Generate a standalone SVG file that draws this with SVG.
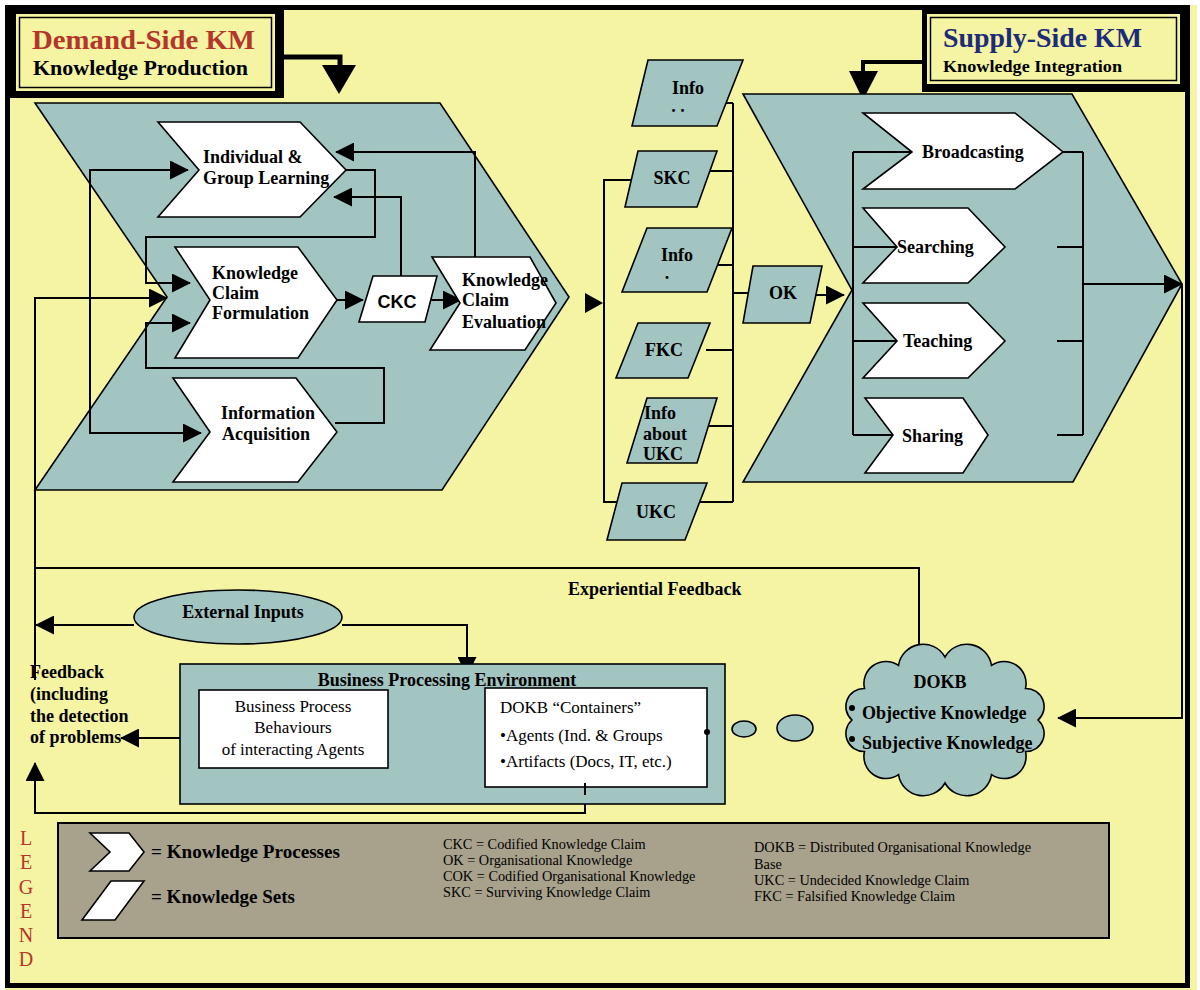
<svg xmlns="http://www.w3.org/2000/svg" width="1200" height="990" viewBox="0 0 1200 990">
  <style>
    .teal{fill:#A2C5C1;stroke:#000;stroke-width:1.6}
    .proc{fill:#fff;stroke:#000;stroke-width:1.6}
    .ln{fill:none;stroke:#000;stroke-width:2}
    .arr{fill:none;stroke:#000;stroke-width:2;marker-end:url(#ah)}
    .t{font-family:"Liberation Serif","Times New Roman",serif;font-weight:bold;font-size:18px;fill:#000}
    .r{font-family:"Liberation Serif","Times New Roman",serif;font-size:17px;fill:#000}
    .s{font-family:"Liberation Serif","Times New Roman",serif;font-size:14.3px;fill:#000}
    .c{text-anchor:middle}
    .leg{font-family:"Liberation Serif","Times New Roman",serif;font-size:20px;fill:#B5352A;text-anchor:middle}
  </style>
  <defs>
    <marker id="ah" viewBox="0 0 20 20" markerWidth="19" markerHeight="19" refX="19" refY="10" orient="auto" markerUnits="userSpaceOnUse">
      <path d="M0,0 L20,10 L0,20 Z" fill="#000"/>
    </marker>
  </defs>

  <!-- page and frame -->
  <rect x="0" y="0" width="1200" height="990" fill="#fff"/>
  <rect x="5" y="5" width="1192" height="985" fill="#F4F4A2"/>
  <rect x="7.5" y="7.5" width="1180" height="978" fill="none" stroke="#000" stroke-width="5"/>

  <!-- demand side header -->
  <g id="demand-header">
    <rect x="5" y="5" width="279" height="93" fill="#000"/>
    <rect x="16" y="14" width="259" height="77" fill="#F4F4A2"/>
    <rect x="19.5" y="17.5" width="252" height="70" fill="none" stroke="#000" stroke-width="1.5"/>
    <text x="32" y="49" font-family="Liberation Serif,serif" font-weight="bold" font-size="27" fill="#B5352A" textLength="223" lengthAdjust="spacingAndGlyphs">Demand-Side KM</text>
    <text x="33" y="75" font-family="Liberation Serif,serif" font-weight="bold" font-size="21" fill="#000" textLength="215" lengthAdjust="spacingAndGlyphs">Knowledge Production</text>
    <polyline points="284,57 340,57 340,68" fill="none" stroke="#000" stroke-width="5"/>
    <polygon points="322,65 356,65 339,94" fill="#000"/>
  </g>

  <!-- supply side header -->
  <g id="supply-header">
    <rect x="922" y="5" width="268" height="87" fill="#000"/>
    <rect x="927" y="14" width="253" height="70" fill="#F4F4A2"/>
    <rect x="930.5" y="17.5" width="246" height="63" fill="none" stroke="#000" stroke-width="1.5"/>
    <text x="943" y="47" font-family="Liberation Serif,serif" font-weight="bold" font-size="27" fill="#1C2B7A" textLength="199" lengthAdjust="spacingAndGlyphs">Supply-Side KM</text>
    <text x="943" y="72" font-family="Liberation Serif,serif" font-weight="bold" font-size="17" fill="#000" textLength="179" lengthAdjust="spacingAndGlyphs">Knowledge Integration</text>
    <polyline points="922,62 863,62 863,74" fill="none" stroke="#000" stroke-width="4"/>
    <polygon points="849,71 878,71 863,100" fill="#000"/>
  </g>

  <!-- large process chevrons -->
  <g id="demand-chevron">
    <polygon class="teal" points="35,103 440,103 569,297 442,490 35,490 167,297"/>
  </g>
  <g id="supply-chevron">
    <polygon class="teal" points="743,94 1072,94 1182,284 1073,482 743,482 852,290"/>
  </g>

  <!-- connectors -->
  <g id="connectors">
    <!-- demand side loops -->
    <path class="arr" d="M90,300 V170 H188"/>
    <path class="arr" d="M90,300 V433 H201"/>
    <path class="arr" d="M346,170 H375 V237 H146 V283 H190"/>
    <path class="arr" d="M335,423 H384 V368 H146 V323 H190"/>
    <path class="arr" d="M475,257 V152 H336"/>
    <path class="arr" d="M401,278 V197 H334"/>
    <path class="arr" d="M337,300 H363"/>
    <path class="arr" d="M426,300 H461"/>
    <path class="arr" d="M35,680 V298 H167"/>
    <polygon points="585,293 603,303 585,313" fill="#000"/>

    <!-- knowledge set buses -->
    <path class="ln" d="M632,180 H604 V502 H618"/>
    <path class="ln" d="M733,103 V502"/>
    <path class="ln" d="M715,103 H733 M710,171 H733 M715,265 H733 M706,350 H733 M708,426 H733 M697,502 H733"/>
    <path class="ln" d="M733,293 H749"/>
    <path class="arr" d="M815,295 H844"/>

    <!-- supply side buses -->
    <path class="ln" d="M853,152 V435 M853,152 H912"/>
    <path class="ln" d="M1083,152 V435 M1063,152 H1083 M1057,247 H1083 M1057,341 H1083 M1057,435 H1083"/>
    <path class="arr" d="M1083,284 H1182"/>
    <path class="arr" d="M1182,284 V718 H1058"/>

    <!-- feedback loops -->
    <path class="ln" d="M35,568 H919 V647"/>
    <path class="arr" d="M134,625 H36"/>
    <path class="arr" d="M342,625 H467 V675"/>
    <path class="arr" d="M486,748 H440"/>
    <path class="arr" d="M199,738 H121"/>
    <path class="arr" d="M585,783 V813 H35 V763"/>
  </g>

  <!-- demand side processes -->
  <g id="individual-group-learning">
    <polygon class="proc" points="158,122 300,122 346,170 300,217 158,217 199,170"/>
    <text class="t" x="203" y="163">Individual &amp;</text>
    <text class="t" x="203" y="184">Group Learning</text>
  </g>
  <g id="kc-formulation">
    <polygon class="proc" points="175,247 298,247 337,300 298,358 175,358 210,300"/>
    <text class="t" x="212" y="279">Knowledge</text>
    <text class="t" x="212" y="299">Claim</text>
    <text class="t" x="212" y="319">Formulation</text>
  </g>
  <g id="information-acquisition">
    <polygon class="proc" points="173,378 296,378 337,432 298,482 173,482 210,432"/>
    <text class="t c" x="268" y="419">Information</text>
    <text class="t c" x="266" y="440">Acquisition</text>
  </g>
  <g id="ckc">
    <polygon class="proc" points="373,276 437,276 425,322 359,322"/>
    <text x="397" y="308" font-family="Liberation Sans,Arial,sans-serif" font-weight="bold" font-size="18" text-anchor="middle">CKC</text>
  </g>
  <g id="kc-evaluation">
    <polygon class="proc" points="432,257 530,257 556,303 525,350 430,350 460,303"/>
    <text class="t" x="462" y="286">Knowledge</text>
    <text class="t" x="462" y="306">Claim</text>
    <text class="t" x="462" y="328">Evaluation</text>
  </g>

  <!-- knowledge sets -->
  <g id="set-info-1">
    <polygon class="teal" points="648,60 743,60 717,126 632,126"/>
    <text class="t c" x="688" y="94" font-size="17">Info</text>
    <text class="t c" x="678" y="112" font-size="13">. .</text>
  </g>
  <g id="set-skc">
    <polygon class="teal" points="638,151 717,151 697,207 625,207"/>
    <text class="t c" x="672" y="184" font-size="17">SKC</text>
  </g>
  <g id="set-info-2">
    <polygon class="teal" points="647,228 732,228 707,292 622,292"/>
    <text class="t c" x="677" y="261" font-size="17">Info</text>
    <text class="t c" x="667" y="279" font-size="13">.</text>
  </g>
  <g id="set-fkc">
    <polygon class="teal" points="638,323 710,323 688,378 616,378"/>
    <text class="t c" x="664" y="356" font-size="17">FKC</text>
  </g>
  <g id="set-info-ukc">
    <polygon class="teal" points="647,398 717,398 697,463 627,463"/>
    <text class="t" x="644" y="419" font-size="17">Info</text>
    <text class="t" x="643" y="440" font-size="17">about</text>
    <text class="t" x="643" y="460" font-size="17">UKC</text>
  </g>
  <g id="set-ukc">
    <polygon class="teal" points="622,483 707,483 685,540 607,540"/>
    <text class="t c" x="656" y="518" font-size="17">UKC</text>
  </g>
  <g id="set-ok">
    <polygon class="teal" points="753,266 822,266 810,323 743,323"/>
    <text class="t c" x="783" y="299" font-size="17">OK</text>
  </g>

  <!-- supply side processes -->
  <g id="broadcasting">
    <polygon class="proc" points="863,113 1015,113 1063,152 1015,189 863,189 912,152"/>
    <text class="t" x="922" y="158">Broadcasting</text>
  </g>
  <g id="searching">
    <polygon class="proc" points="863,208 968,208 1005,247 968,283 863,283 897,247"/>
    <text class="t" x="897" y="253">Searching</text>
  </g>
  <g id="teaching">
    <polygon class="proc" points="863,303 968,303 1005,341 968,378 863,378 897,341"/>
    <text class="t" x="903" y="347">Teaching</text>
  </g>
  <g id="sharing">
    <polygon class="proc" points="865,398 963,398 988,435 963,473 865,473 893,435"/>
    <text class="t" x="902" y="442">Sharing</text>
  </g>
  <!-- bus stubs that run into the chevron notches -->
  <path class="ln" d="M853,247 H897 M853,341 H897 M853,435 H893"/>

  <!-- feedback labels -->
  <g id="experiential-feedback">
    <text class="t" x="568" y="595">Experiential Feedback</text>
  </g>
  <g id="feedback-note">
    <text class="t" x="30" y="678" font-size="16">Feedback</text>
    <text class="t" x="30" y="700" font-size="16">(including</text>
    <text class="t" x="30" y="722" font-size="16">the detection</text>
    <text class="t" x="30" y="743" font-size="16">of problems</text>
  </g>

  <!-- external inputs -->
  <g id="external-inputs">
    <ellipse class="teal" cx="238" cy="617" rx="104" ry="27"/>
    <text class="t c" x="243" y="618" font-size="17">External Inputs</text>
  </g>

  <!-- business processing environment -->
  <g id="business-processing-environment">
    <rect class="teal" x="180" y="664" width="545" height="140"/>
    <text class="t c" x="447" y="686">Business Processing Environment</text>
  </g>
  <g id="business-process-behaviours">
    <rect class="proc" x="199" y="690" width="189" height="78"/>
    <text class="r c" x="293" y="712">Business Process</text>
    <text class="r c" x="293" y="733">Behaviours</text>
    <text class="r c" x="293" y="755">of interacting Agents</text>
  </g>
  <g id="dokb-containers">
    <rect class="proc" x="485" y="688" width="222" height="99"/>
    <text class="r" x="500" y="713">DOKB “Containers”</text>
    <text class="r" x="500" y="741">•Agents (Ind. &amp; Groups</text>
    <text class="r" x="500" y="767">•Artifacts (Docs, IT, etc.)</text>
    <circle cx="707" cy="732" r="3" fill="#000"/>
    <path class="ln" d="M585,783 V795"/>
  </g>

  <!-- thought bubbles towards the DOKB -->
  <g id="bubbles">
    <ellipse class="teal" cx="744" cy="729" rx="12" ry="8"/>
    <ellipse class="teal" cx="795" cy="728" rx="18" ry="13"/>
  </g>

  <!-- DOKB cloud -->
  <g id="dokb">
    <path class="teal" stroke-width="2" d="M1038,720 A18,18 0 0 0 1025.5,688.5 A22,22 0 0 0 991.5,665.4 A25,25 0 0 0 945,657 A25,25 0 0 0 898.5,665.4 A22,22 0 0 0 864.5,688.5 A18,18 0 0 0 852,720 A18,18 0 0 0 864.5,751.5 A22,22 0 0 0 898.5,774.6 A25,25 0 0 0 945,783 A25,25 0 0 0 991.5,774.6 A22,22 0 0 0 1025.5,751.5 A18,18 0 0 0 1038,720 Z"/>
    <text class="t c" x="940" y="688" font-size="21">DOKB</text>
    <circle cx="852" cy="708" r="3" fill="#000"/>
    <circle cx="852" cy="739" r="3" fill="#000"/>
    <text class="t" x="862" y="719" font-size="17">Objective Knowledge</text>
    <text class="t" x="862" y="749" font-size="17">Subjective Knowledge</text>
  </g>

  <!-- legend -->
  <g id="legend">
    <rect x="58" y="823" width="1051" height="115" fill="#A8A28C" stroke="#000" stroke-width="2"/>
    <polygon class="proc" points="90,833 129,833 144,852 129,871 90,871 110,852"/>
    <polygon class="proc" points="111,881 144,881 115,920 82,920"/>
    <text class="t" x="151" y="858" textLength="189" lengthAdjust="spacingAndGlyphs">= Knowledge Processes</text>
    <text class="t" x="151" y="903" textLength="144" lengthAdjust="spacingAndGlyphs">= Knowledge Sets</text>
    <text class="s" x="443" y="849">CKC = Codified Knowledge Claim</text>
    <text class="s" x="443" y="865">OK = Organisational Knowledge</text>
    <text class="s" x="443" y="881">COK = Codified Organisational Knowledge</text>
    <text class="s" x="443" y="897">SKC = Surviving Knowledge Claim</text>
    <text class="s" x="754" y="852">DOKB = Distributed Organisational Knowledge</text>
    <text class="s" x="754" y="869">Base</text>
    <text class="s" x="754" y="885">UKC = Undecided Knowledge Claim</text>
    <text class="s" x="754" y="901">FKC = Falsified Knowledge Claim</text>
    <text class="leg" x="26" y="845">L</text>
    <text class="leg" x="26" y="869">E</text>
    <text class="leg" x="26" y="894">G</text>
    <text class="leg" x="26" y="918">E</text>
    <text class="leg" x="26" y="942">N</text>
    <text class="leg" x="26" y="966">D</text>
  </g>
</svg>
